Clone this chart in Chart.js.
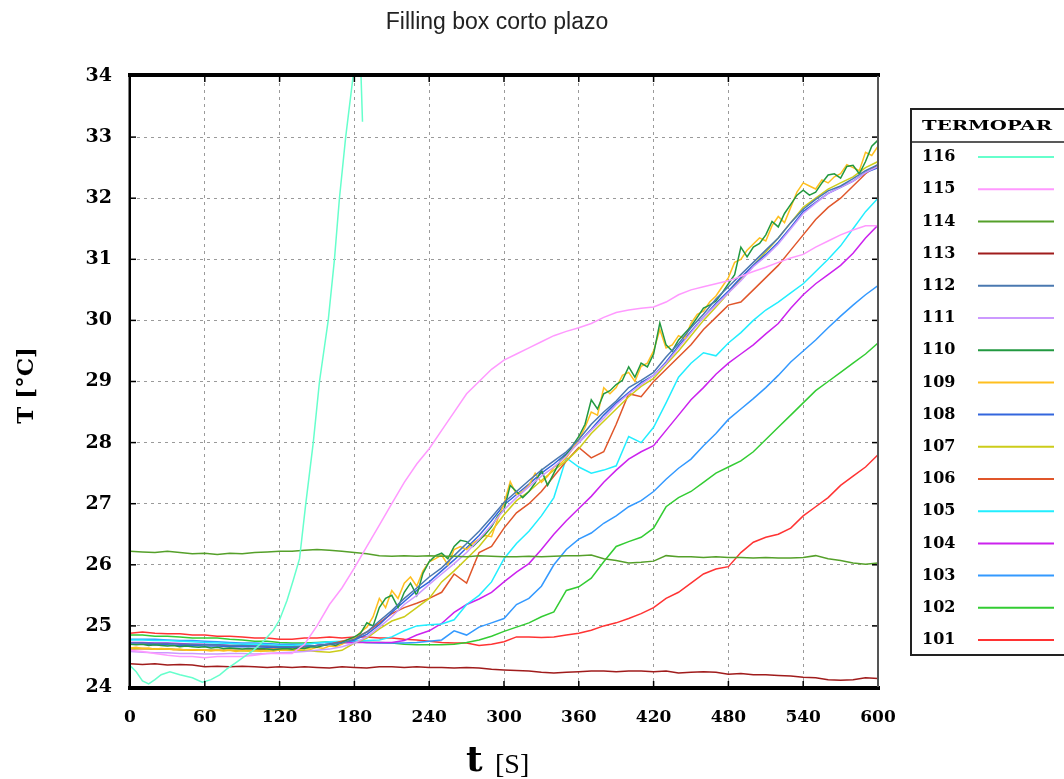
<!DOCTYPE html>
<html lang="es">
<head>
<meta charset="UTF-8">
<title>Filling box corto plazo</title>
<script src="https://cdn.jsdelivr.net/npm/chart.js"></script>
<style>
  body { margin: 0; background: #fff; }
  #contenedor { width: 1064px; height: 779px; position: relative; }
</style>
</head>
<body>
<div id="contenedor"><canvas id="grafica"></canvas></div>
<script>
// tiempos de muestreo (s)
const tiempo = [0,10,20,30,40,50,60,70,80,90,100,110,120,130,140,150,160,170,180,190,
  200,210,220,230,240,250,260,270,280,290,300,310,320,330,340,350,360,370,380,390,
  400,410,420,430,440,450,460,470,480,490,500,510,520,530,540,550,560,570,580,590,600];
const tiempoFino = [0,5,10,15,20,25,30,35,40,45,50,55,60,65,70,75,80,85,90,95,
  100,105,110,115,120,125,130,135,140,145,150,155,160,165,170,175,180,185,190,195,
  200,205,210,215,220,225,230,235,240,245,250,255,260,265,270,275,280,285,290,295,
  300,305,310,315,320,325,330,335,340,345,350,355,360,365,370,375,380,385,390,395,
  400,405,410,415,420,425,430,435,440,445,450,455,460,465,470,475,480,485,490,495,
  500,505,510,515,520,525,530,535,540,545,550,555,560,565,570,575,580,585,590,595,600];
const tiempo116 = [0,5,10,15,20,25,32,40,50,58,65,72,78,85,92,99,107,115,120,126,
  131,136,141,147,152,159,164,168,173,179,183,185,186.5];

// temperaturas por termopar (°C)
const t116 = [24.35,24.25,24.10,24.05,24.12,24.20,24.25,24.20,24.15,24.08,24.12,24.20,24.30,24.40,24.50,24.60,24.75,24.93,25.10,25.42,
  25.75,26.10,27.00,28.00,29.00,30.00,31.00,32.00,33.00,34.00,34.80,34.20,33.25];
const t115 = [24.60,24.58,24.55,24.52,24.50,24.50,24.48,24.50,24.50,24.50,
  24.52,24.55,24.55,24.55,24.70,25.00,25.35,25.62,25.95,26.30,
  26.65,27.00,27.35,27.65,27.90,28.20,28.50,28.80,29.00,29.20,
  29.35,29.45,29.55,29.65,29.75,29.82,29.88,29.95,30.05,30.13,
  30.17,30.20,30.22,30.30,30.42,30.50,30.55,30.60,30.65,30.72,
  30.80,30.87,30.95,31.02,31.08,31.20,31.30,31.40,31.48,31.55,31.55];
const t114 = [26.22,26.21,26.20,26.22,26.20,26.18,26.19,26.17,26.19,26.18,
  26.20,26.21,26.22,26.22,26.24,26.25,26.24,26.22,26.20,26.18,
  26.15,26.14,26.15,26.14,26.15,26.14,26.14,26.13,26.15,26.14,
  26.13,26.13,26.14,26.13,26.14,26.15,26.15,26.16,26.10,26.07,
  26.03,26.04,26.06,26.15,26.13,26.13,26.12,26.13,26.12,26.12,
  26.11,26.12,26.11,26.11,26.12,26.15,26.10,26.07,26.03,26.01,26.03];
const t113 = [24.38,24.37,24.38,24.36,24.37,24.36,24.33,24.34,24.33,24.34,
  24.33,24.32,24.33,24.32,24.33,24.32,24.31,24.33,24.32,24.31,
  24.33,24.33,24.32,24.33,24.32,24.32,24.31,24.32,24.31,24.29,
  24.28,24.27,24.26,24.24,24.23,24.24,24.25,24.26,24.26,24.25,
  24.26,24.26,24.25,24.26,24.23,24.24,24.25,24.24,24.21,24.22,
  24.20,24.20,24.19,24.18,24.16,24.15,24.12,24.11,24.12,24.15,24.14];
const t112 = [24.72,24.72,24.71,24.71,24.70,24.70,24.69,24.69,24.68,24.68,
  24.67,24.67,24.66,24.66,24.67,24.68,24.70,24.72,24.78,24.90,
  25.08,25.25,25.45,25.62,25.80,25.95,26.15,26.35,26.55,26.78,
  27.02,27.20,27.38,27.55,27.70,27.85,28.05,28.30,28.50,28.68,
  28.90,29.02,29.15,29.40,29.62,29.88,30.10,30.35,30.55,30.75,
  30.95,31.15,31.35,31.60,31.82,31.98,32.12,32.20,32.32,32.45,32.55];
const t111 = [24.58,24.57,24.56,24.56,24.55,24.55,24.54,24.54,24.55,24.55,
  24.54,24.55,24.56,24.57,24.58,24.60,24.62,24.66,24.72,24.82,
  24.98,25.15,25.35,25.50,25.68,25.85,26.02,26.20,26.42,26.65,
  26.90,27.10,27.28,27.45,27.60,27.78,28.00,28.20,28.40,28.62,
  28.80,28.95,29.10,29.30,29.55,29.80,30.05,30.25,30.45,30.65,
  30.88,31.05,31.25,31.50,31.75,31.92,32.08,32.18,32.28,32.42,32.52];
const t110 = [24.70,24.69,24.70,24.68,24.69,24.68,24.67,24.68,24.66,24.67,
  24.66,24.65,24.66,24.64,24.65,24.63,24.64,24.63,24.62,24.63,
  24.62,24.63,24.62,24.61,24.62,24.63,24.62,24.64,24.63,24.66,
  24.65,24.68,24.70,24.68,24.73,24.78,24.82,24.88,25.05,25.00,
  25.30,25.45,25.50,25.30,25.55,25.70,25.50,25.86,26.05,26.15,
  26.19,26.10,26.30,26.40,26.38,26.30,26.40,26.50,26.62,26.80,
  26.90,27.30,27.20,27.10,27.20,27.34,27.55,27.30,27.50,27.70,
  27.80,27.95,28.10,28.30,28.70,28.55,28.80,28.85,28.95,29.02,
  29.24,29.07,29.30,29.24,29.45,29.96,29.60,29.50,29.68,29.79,
  29.90,30.05,30.20,30.25,30.32,30.45,30.60,30.75,31.20,31.04,
  31.20,31.26,31.40,31.62,31.53,31.75,31.90,32.05,32.13,32.05,
  32.10,32.25,32.38,32.40,32.33,32.52,32.54,32.40,32.60,32.85,32.95];
const t109 = [24.64,24.65,24.63,24.64,24.62,24.63,24.62,24.61,24.62,24.60,
  24.61,24.60,24.60,24.59,24.60,24.59,24.60,24.58,24.60,24.59,
  24.60,24.58,24.60,24.59,24.61,24.60,24.62,24.61,24.63,24.62,
  24.65,24.63,24.67,24.66,24.70,24.76,24.80,24.90,24.98,25.15,
  25.45,25.30,25.58,25.45,25.70,25.80,25.65,25.90,26.05,26.10,
  26.16,26.00,26.25,26.30,26.25,26.35,26.42,26.48,26.46,26.75,
  27.00,27.36,27.15,27.20,27.30,27.50,27.35,27.45,27.60,27.65,
  27.75,27.90,28.05,28.25,28.50,28.45,28.90,28.80,28.90,29.10,
  29.15,29.00,29.25,29.30,29.50,29.85,29.55,29.60,29.75,29.70,
  29.95,30.10,30.15,30.30,30.40,30.55,30.70,30.95,31.00,31.15,
  31.25,31.35,31.30,31.55,31.70,31.60,31.85,32.10,32.25,32.20,
  32.15,32.30,32.25,32.35,32.40,32.55,32.50,32.45,32.75,32.70,32.85];
const t108 = [24.70,24.70,24.69,24.69,24.68,24.68,24.67,24.67,24.66,24.66,
  24.66,24.65,24.65,24.65,24.66,24.68,24.70,24.73,24.77,24.86,
  25.02,25.22,25.40,25.58,25.72,25.90,26.08,26.28,26.48,26.72,
  26.98,27.15,27.32,27.50,27.65,27.82,28.00,28.22,28.45,28.65,
  28.82,28.98,29.10,29.32,29.58,29.82,30.05,30.28,30.48,30.70,
  30.90,31.08,31.28,31.52,31.78,31.93,32.08,32.18,32.28,32.42,32.50];
const t107 = [24.63,24.63,24.62,24.62,24.61,24.61,24.60,24.60,24.60,24.59,
  24.59,24.59,24.60,24.60,24.60,24.58,24.57,24.60,24.72,24.80,
  24.95,25.08,25.15,25.30,25.45,25.72,25.90,26.10,26.30,26.55,
  26.82,27.05,27.20,27.38,27.55,27.70,27.90,28.15,28.35,28.55,
  28.75,28.92,29.05,29.28,29.50,29.75,30.00,30.22,30.45,30.68,
  30.90,31.12,31.35,31.60,31.85,32.00,32.15,32.25,32.35,32.50,32.60];
const t106 = [24.62,24.63,24.62,24.62,24.61,24.60,24.60,24.60,24.60,24.60,
  24.60,24.62,24.62,24.63,24.65,24.68,24.70,24.75,24.80,24.90,
  25.05,25.20,25.30,25.37,25.45,25.55,25.85,25.70,26.20,26.30,
  26.60,26.85,27.00,27.20,27.45,27.70,27.92,27.75,27.85,28.30,
  28.80,28.75,29.00,29.20,29.40,29.60,29.85,30.05,30.25,30.30,
  30.50,30.70,30.90,31.15,31.40,31.65,31.85,32.00,32.20,32.40,32.55];
const t105 = [24.77,24.77,24.76,24.76,24.75,24.74,24.73,24.72,24.71,24.70,
  24.70,24.69,24.68,24.68,24.70,24.72,24.74,24.75,24.76,24.76,
  24.77,24.82,24.92,25.00,25.02,25.03,25.10,25.35,25.50,25.72,
  26.10,26.35,26.55,26.80,27.10,27.75,27.60,27.50,27.55,27.62,
  28.10,28.00,28.25,28.65,29.07,29.30,29.47,29.42,29.63,29.80,
  30.00,30.17,30.30,30.45,30.60,30.80,31.00,31.22,31.50,31.78,32.00];
const t104 = [24.73,24.73,24.72,24.72,24.71,24.70,24.70,24.69,24.68,24.68,
  24.67,24.66,24.65,24.65,24.66,24.68,24.70,24.72,24.73,24.73,
  24.73,24.73,24.76,24.85,24.92,25.04,25.22,25.35,25.44,25.55,
  25.72,25.88,26.02,26.25,26.50,26.72,26.92,27.12,27.35,27.55,
  27.73,27.85,27.95,28.20,28.45,28.70,28.90,29.12,29.30,29.45,
  29.60,29.78,29.95,30.20,30.42,30.60,30.75,30.90,31.10,31.35,31.56];
const t103 = [24.78,24.78,24.78,24.77,24.76,24.76,24.75,24.74,24.73,24.72,
  24.72,24.71,24.70,24.70,24.70,24.72,24.73,24.74,24.74,24.73,
  24.72,24.72,24.72,24.73,24.75,24.77,24.92,24.85,24.98,25.05,
  25.12,25.35,25.45,25.65,26.00,26.25,26.42,26.52,26.68,26.80,
  26.95,27.05,27.20,27.40,27.58,27.73,27.95,28.15,28.38,28.55,
  28.72,28.90,29.10,29.32,29.50,29.68,29.88,30.07,30.25,30.42,30.57];
const t102 = [24.85,24.85,24.83,24.83,24.82,24.80,24.80,24.80,24.78,24.77,
  24.75,24.75,24.73,24.72,24.72,24.73,24.74,24.74,24.74,24.73,
  24.73,24.72,24.70,24.69,24.69,24.69,24.70,24.73,24.77,24.83,
  24.91,24.98,25.05,25.15,25.23,25.58,25.64,25.78,26.05,26.30,
  26.38,26.45,26.60,26.95,27.10,27.20,27.35,27.50,27.60,27.70,
  27.85,28.05,28.25,28.45,28.65,28.85,29.00,29.15,29.30,29.45,29.63];
const t101 = [24.88,24.90,24.88,24.87,24.87,24.85,24.85,24.83,24.83,24.82,
  24.80,24.80,24.78,24.78,24.80,24.80,24.82,24.80,24.82,24.82,
  24.80,24.80,24.78,24.77,24.75,24.73,24.72,24.72,24.68,24.70,
  24.74,24.82,24.82,24.81,24.82,24.85,24.88,24.93,25.00,25.05,
  25.12,25.20,25.30,25.45,25.55,25.70,25.85,25.93,25.97,26.20,
  26.37,26.45,26.50,26.60,26.80,26.95,27.10,27.30,27.45,27.60,27.80];

const termopares = [
  { nombre: '116', color: '#66ffcc', t: tiempo116,  v: t116 },
  { nombre: '115', color: '#ff99ff', t: tiempo,     v: t115 },
  { nombre: '114', color: '#55a02a', t: tiempo,     v: t114 },
  { nombre: '113', color: '#a01c1c', t: tiempo,     v: t113 },
  { nombre: '112', color: '#4a78b0', t: tiempo,     v: t112 },
  { nombre: '111', color: '#cc99ff', t: tiempo,     v: t111 },
  { nombre: '110', color: '#229940', t: tiempoFino, v: t110 },
  { nombre: '109', color: '#ffbf1f', t: tiempoFino, v: t109 },
  { nombre: '108', color: '#3366dd', t: tiempo,     v: t108 },
  { nombre: '107', color: '#cccc1a', t: tiempo,     v: t107 },
  { nombre: '106', color: '#e0562a', t: tiempo,     v: t106 },
  { nombre: '105', color: '#22eeff', t: tiempo,     v: t105 },
  { nombre: '104', color: '#cc22ee', t: tiempo,     v: t104 },
  { nombre: '103', color: '#3399ff', t: tiempo,     v: t103 },
  { nombre: '102', color: '#33cc33', t: tiempo,     v: t102 },
  { nombre: '101', color: '#ff3333', t: tiempo,     v: t101 }
];

const serif = '"DejaVu Serif", "Liberation Serif", serif';

function linea(ctx, x1, y1, x2, y2) {
  ctx.beginPath();
  ctx.moveTo(x1, y1);
  ctx.lineTo(x2, y2);
  ctx.stroke();
}

// marco grueso y marcas hacia dentro
const marco = {
  id: 'marco',
  afterDatasetsDraw(chart) {
    const { ctx, chartArea: a, scales: { x, y } } = chart;
    ctx.save();
    ctx.strokeStyle = '#000';
    ctx.lineWidth = 1.5;
    y.ticks.forEach(t => {
      const py = y.getPixelForValue(t.value);
      linea(ctx, a.left, py, a.left + 6, py);
      linea(ctx, a.right, py, a.right - 6, py);
    });
    x.ticks.forEach(t => {
      const px = x.getPixelForValue(t.value);
      linea(ctx, px, a.bottom, px, a.bottom - 6);
      linea(ctx, px, a.top, px, a.top + 6);
    });
    ctx.fillStyle = '#000';
    ctx.fillRect(a.left - 2, a.top - 3, a.width + 4, 4);
    ctx.fillRect(a.left - 2, a.bottom - 1, a.width + 4, 4);
    ctx.fillRect(a.left - 1.5, a.top, 2.5, a.height);
    ctx.fillStyle = '#555';
    ctx.fillRect(a.right - 1, a.top, 2, a.height);
    ctx.restore();
  }
};

// título, rótulos de ejes y leyenda con cabecera
const textos = {
  id: 'textos',
  afterDraw(chart) {
    const { ctx, chartArea: a } = chart;
    ctx.save();
    ctx.fillStyle = '#222';
    ctx.textAlign = 'center';
    ctx.textBaseline = 'middle';
    ctx.font = '23px "Liberation Sans", Arial, sans-serif';
    ctx.fillText('Filling box corto plazo', 497, 23);

    ctx.fillStyle = '#000';
    ctx.save();
    ctx.translate(27, (a.top + a.bottom) / 2 + 4);
    ctx.rotate(-Math.PI / 2);
    ctx.font = 'bold 23px ' + serif;
    ctx.fillText('T [°C]', 0, 0);
    ctx.restore();

    ctx.textAlign = 'left';
    ctx.textBaseline = 'alphabetic';
    ctx.font = 'bold 36px ' + serif;
    ctx.fillText('t', 466, 771);
    ctx.font = '28px "Liberation Serif", serif';
    ctx.fillText('[S]', 495, 773);

    // leyenda
    const lx = 911, ly = 109, lb = 655;
    ctx.strokeStyle = '#222';
    ctx.lineWidth = 2;
    ctx.strokeRect(lx, ly, 170, lb - ly);
    ctx.lineWidth = 1.5;
    linea(ctx, lx, 142, 1064, 142);
    ctx.font = 'bold 13px ' + serif;
    ctx.textBaseline = 'middle';
    const w = ctx.measureText('TERMOPAR').width;
    ctx.save();
    ctx.translate(922, 127);
    ctx.scale(130 / w, 1);
    ctx.fillText('TERMOPAR', 0, 0);
    ctx.restore();
    ctx.font = 'bold 16px ' + serif;
    chart.data.datasets.forEach((ds, i) => {
      const yy = 157 + i * 32.2;
      ctx.fillStyle = '#000';
      ctx.fillText(ds.label, 922, yy);
      ctx.strokeStyle = ds.borderColor;
      ctx.lineWidth = 2;
      linea(ctx, 978, yy, 1054, yy);
    });
    ctx.restore();
  }
};

new Chart(document.getElementById('grafica'), {
  type: 'line',
  data: {
    datasets: termopares.map(s => ({
      label: s.nombre,
      data: s.t.map((x, i) => ({ x: x, y: s.v[i] })),
      borderColor: s.color,
      backgroundColor: s.color,
      borderWidth: 1.5,
      pointRadius: 0,
      tension: 0,
      fill: false
    }))
  },
  options: {
    responsive: true,
    maintainAspectRatio: false,
    animation: false,
    layout: { padding: { left: 0, right: 186, top: 76, bottom: 0 } },
    plugins: {
      legend: { display: false },
      title: { display: false },
      tooltip: { enabled: false }
    },
    scales: {
      x: {
        type: 'linear',
        min: 0,
        max: 600,
        ticks: { stepSize: 60, maxRotation: 0, padding: 20, color: '#000',
                 font: { family: serif, weight: 'bold', size: 17 } },
        grid: { color: '#9a9a9a', lineWidth: 1, drawTicks: false },
        border: { display: false, dash: [3, 4] },
        afterFit(s) { s.height = 92; }
      },
      y: {
        min: 24,
        max: 34,
        ticks: { stepSize: 1, padding: 18, color: '#000',
                 font: { family: serif, weight: 'bold', size: 19 } },
        grid: { color: '#9a9a9a', lineWidth: 1, drawTicks: false },
        border: { display: false, dash: [3, 4] },
        afterFit(s) { s.width = 130; }
      }
    }
  },
  plugins: [marco, textos]
});
</script>
</body>
</html>
